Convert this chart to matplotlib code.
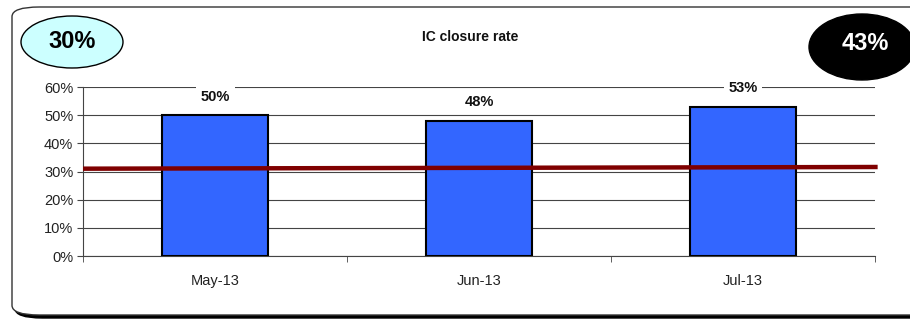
import matplotlib.pyplot as plt
from matplotlib.patches import Ellipse, FancyBboxPatch

plt.rcParams['font.family'] = ['Liberation Sans', 'DejaVu Sans']

months = ['May-13', 'Jun-13', 'Jul-13']
rates = [50, 48, 53]
target_line = [31.0, 31.6]   # red reference line, left -> right
left_badge = '30%'
right_badge = '43%'

W, H = 910, 320
fig = plt.figure(figsize=(W / 100, H / 100), dpi=100)

# rounded frame with shadow (right edge runs off the picture)
shadow = FancyBboxPatch((15 / W, 2 / H), 930 / W, 308 / H,
                        boxstyle='round,pad=0,rounding_size=0.03',
                        transform=fig.transFigure, facecolor='black',
                        edgecolor='black', zorder=0)
frame = FancyBboxPatch((12 / W, 5 / H), 930 / W, 308 / H,
                       boxstyle='round,pad=0,rounding_size=0.03',
                       transform=fig.transFigure, facecolor='white',
                       edgecolor='#333333', linewidth=1.0, zorder=1)
fig.patches.extend([shadow, frame])

ax = fig.add_axes([83 / W, 64 / H, 792 / W, 169 / H])
ax.set_zorder(2)
ax.patch.set_alpha(0)

x = range(len(months))
ax.bar(x, rates, width=0.4, color='#3366FF', edgecolor='black',
       linewidth=1.5, zorder=3)

ax.set_xlim(-0.5, 2.5)
ax.set_ylim(0, 60)
ax.set_yticks(range(0, 61, 10))
ax.set_yticklabels([f'{v}%' for v in range(0, 61, 10)], fontsize=10.5,
                   color='#222222')
ax.yaxis.grid(True, color='#444444', linewidth=0.8)
ax.set_axisbelow(True)
ax.set_xticks(list(x))
ax.set_xticklabels(months, fontsize=10.5, color='#222222')
ax.set_xticks([-0.5, 0.5, 1.5, 2.5], minor=True)
ax.tick_params(axis='x', which='major', length=0, pad=13)
ax.tick_params(axis='x', which='minor', length=4, color='#444444')
ax.tick_params(axis='y', length=4, color='#444444', pad=3)
for s in ['top', 'right']:
    ax.spines[s].set_visible(False)
ax.spines['left'].set_color('#444444')
ax.spines['bottom'].set_color('#444444')

label_y = [56.4, 54.7, 59.6]
for i, (v, ly) in enumerate(zip(rates, label_y)):
    ax.text(i, ly, f'{v}%', ha='center', va='center', fontsize=10.5,
            fontweight='bold', color='#111111', zorder=5,
            bbox=dict(facecolor='white', edgecolor='none', pad=3.5))

ax.plot([-0.5, 2.51], target_line, color='#7F0000', linewidth=3.2,
        solid_capstyle='butt', zorder=4, clip_on=False)

fig.text(470 / W, 1 - 37 / H, 'IC closure rate', ha='center',
         va='center', fontsize=10, fontweight='bold', color='#111111',
         zorder=5)

e1 = Ellipse((72 / W, 1 - 42 / H), 102 / W, 52 / H,
             transform=fig.transFigure, facecolor='#CCFFFF',
             edgecolor='black', linewidth=1.0, zorder=4)
e2 = Ellipse((862 / W, 1 - 47 / H), 106 / W, 66 / H,
             transform=fig.transFigure, facecolor='black',
             edgecolor='black', linewidth=1.0, zorder=4)
fig.patches.extend([e1, e2])
fig.text(72 / W, 1 - 42 / H, left_badge, ha='center', va='center',
         fontsize=17, fontweight='bold', zorder=5)
fig.text(865 / W, 1 - 43 / H, right_badge, ha='center', va='center',
         fontsize=17, fontweight='bold', color='white', zorder=5)

fig.savefig('out.png', dpi=100)
